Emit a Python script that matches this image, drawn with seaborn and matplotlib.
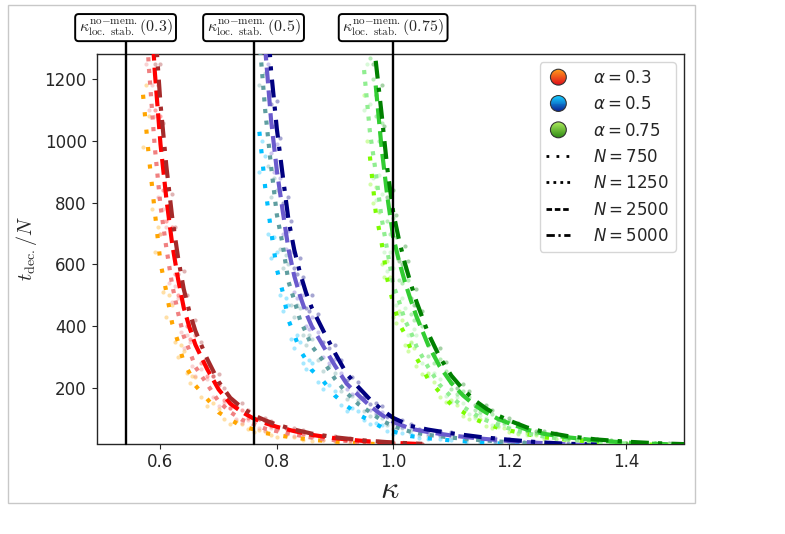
import numpy as np
import pandas as pd
import seaborn as sns
import matplotlib.pyplot as plt
import matplotlib.colors as mcolors
from matplotlib.lines import Line2D
from matplotlib.patches import Circle, Rectangle
from matplotlib.legend_handler import HandlerBase

nan = np.nan

# ---- data: kappa grid and t_dec/N for every (alpha, N) ----
kappa_a03 = [0.57, 0.58, 0.59, 0.60, 0.61, 0.62, 0.63, 0.64, 0.65, 0.66, 0.68, 0.70,
             0.72, 0.74, 0.76, 0.78, 0.80, 0.83, 0.86, 0.90, 0.95, 1.00, 1.05]
t_a03_N750 = [1150, 950, 775, 605, 512, 410, 350, 283, 248, 208, 165, 121,
              97, 76, 66, 54, 47, 39, 32, 26, 20, 16, 14]
t_a03_N1250 = [1560, 1240, 985, 790, 655, 535, 445, 368, 320, 268, 213, 156,
               122, 97, 83, 68, 60, 49, 39, 31, 24, 19, 16]
t_a03_N2500 = [1950, 1550, 1230, 990, 815, 668, 555, 460, 395, 340, 262, 195,
               149, 122, 101, 86, 74, 60, 48, 37, 28, 22, 18]
t_a03_N5000 = [2200, 1750, 1390, 1120, 920, 755, 625, 520, 445, 385, 295, 220,
               168, 136, 112, 95, 81, 65, 52, 40, 30, 23, 19]

kappa_a05 = [0.77, 0.78, 0.79, 0.80, 0.81, 0.82, 0.83, 0.84, 0.85, 0.86, 0.88, 0.90,
             0.92, 0.94, 0.96, 0.98, 1.00, 1.03, 1.06, 1.10, 1.15, 1.20, 1.25, 1.30, 1.35]
t_a05_N750 = [1030, 850, 710, 585, 512, 420, 372, 322, 292, 258, 222, 175,
              142, 114, 94, 73, 59, 44, 37, 30, 24, 18, 14, 12, 10]
t_a05_N1250 = [1330, 1100, 920, 762, 665, 545, 484, 420, 380, 336, 287, 229,
               184, 148, 122, 95, 76, 58, 48, 39, 31, 24, 19, 15, 13]
t_a05_N2500 = [1560, 1300, 1070, 905, 775, 650, 563, 498, 444, 400, 335, 272,
               214, 177, 142, 113, 90, 68, 57, 46, 36, 28, 22, 17, 15]
t_a05_N5000 = [1800, 1500, 1230, 1040, 890, 745, 647, 572, 510, 460, 385, 313,
               246, 203, 163, 130, 103, 77, 65, 53, 41, 32, 24, 19, 17]

kappa_a075 = [0.95, 0.96, 0.97, 0.98, 0.99, 1.00, 1.01, 1.02, 1.03, 1.04, 1.06, 1.08,
              1.10, 1.12, 1.14, 1.16, 1.18, 1.20, 1.23, 1.26, 1.30, 1.35, 1.40, 1.45, 1.50]
t_a075_N750 = [nan, 950, 770, 672, 552, 475, 410, 375, 326, 298, 229, 186,
               146, 122, 99, 84, 71, 62, 50, 40, 32, 25, 20, 16, 14]
t_a075_N1250 = [1230, 1030, 900, 752, 645, 535, 482, 420, 383, 335, 268, 210,
                171, 139, 115, 95, 80, 68, 53, 42, 33, 25, 20, 16, 14]
t_a075_N2500 = [nan, nan, 1180, 980, 820, 690, 612, 545, 486, 432, 340, 270,
                216, 176, 144, 120, 100, 85, 65, 51, 40, 30, 23, 19, 16]
t_a075_N5000 = [nan, nan, 1260, 1090, 910, 770, 680, 605, 540, 480, 378, 300,
                240, 196, 160, 133, 111, 94, 72, 57, 44, 33, 26, 21, 18]

# ---- single-run samples (the faint dots), between grid points ----
kappa_dots_a03 = [0.575, 0.585, 0.595, 0.605, 0.615, 0.625, 0.635, 0.645, 0.655, 0.67, 0.69,
                  0.71, 0.73, 0.75, 0.77, 0.79, 0.815, 0.845, 0.88, 0.925, 0.975]
dots_a03_N750 = [1180, 780, 720, 510, 500, 350, 340, 250, 240, 170, 150, 100, 92, 66, 64, 47, 46, 32, 30, 21, 19]
dots_a03_N1250 = [1250, 1180, 820, 780, 540, 530, 380, 370, 270, 260, 170, 150, 100, 97, 70, 69, 50, 46, 31, 28, 19]
dots_a03_N2500 = [1850, 1300, 1180, 840, 790, 570, 540, 400, 390, 280, 240, 160, 142, 104, 98, 76, 70, 51, 44, 30, 26]
dots_a03_N5000 = [1800, 1600, 1150, 1060, 780, 720, 530, 500, 390, 350, 240, 200, 140, 130, 100, 94, 71, 63, 44, 38, 26]

kappa_dots_a05 = [0.775, 0.785, 0.795, 0.805, 0.815, 0.825, 0.835, 0.845, 0.855, 0.87, 0.89, 0.91,
                  0.93, 0.95, 0.97, 0.99, 1.015, 1.045, 1.08, 1.125, 1.175, 1.225, 1.275]
dots_a05_N750 = [1000, 700, 690, 500, 490, 360, 370, 280, 290, 220, 210, 145, 135, 96, 88, 60, 54, 37, 35, 24, 22, 15, 14]
dots_a05_N1250 = [1300, 920, 880, 650, 630, 470, 470, 370, 370, 290, 270, 190, 175, 125, 112, 80, 70, 49, 45, 32, 28, 19, 17]
dots_a05_N2500 = [1300, 1250, 900, 880, 650, 640, 490, 500, 390, 380, 280, 250, 180, 165, 118, 105, 72, 64, 48, 41, 29, 25, 18]
dots_a05_N5000 = [1500, 1450, 1050, 1010, 760, 740, 570, 560, 450, 440, 330, 290, 235, 170, 150, 108, 95, 66, 62, 43, 37, 26, 23]

kappa_dots_a075 = [0.955, 0.965, 0.975, 0.985, 0.995, 1.005, 1.015, 1.025, 1.035, 1.05, 1.07, 1.09,
                   1.11, 1.13, 1.15, 1.17, 1.19, 1.215, 1.245, 1.28, 1.325, 1.375, 1.425, 1.475]
dots_a075_N750 = [1000, 800, 770, 560, 560, 410, 420, 320, 330, 245, 220, 155, 145, 100, 98, 71, 70, 52, 48, 33, 30, 20, 19, 14]
dots_a075_N1250 = [1250, 880, 890, 640, 640, 470, 490, 370, 390, 280, 250, 175, 170, 115, 112, 80, 80, 55, 51, 34, 31, 20, 19, 14]
dots_a075_N2500 = [nan, 1200, 1000, 950, 700, 690, 540, 550, 420, 400, 280, 255, 180, 170, 122, 116, 86, 79, 54, 48, 32, 28, 19, 18]
dots_a075_N5000 = [nan, 1250, 1100, 1050, 780, 760, 600, 610, 470, 450, 310, 285, 200, 190, 135, 130, 95, 88, 60, 53, 36, 31, 21, 20]

# more single-run samples, on the grid points
extra_a03_N750 = [980, 1080, 640, 700, 430, 470, 300, 320, 215, 235, 140, 132, 82, 84, 57, 60, 41, 42, 28, 29, 18, 17, 13]
extra_a03_N1250 = [1400, 1100, 1080, 700, 720, 480, 490, 330, 350, 240, 230, 140, 135, 88, 90, 61, 64, 44, 42, 28, 26, 17, 17]
extra_a03_N2500 = [1700, 1700, 1100, 1080, 740, 720, 500, 500, 360, 370, 240, 210, 135, 130, 92, 92, 68, 64, 44, 40, 26, 23, 18]
extra_a03_N5000 = [2000, 1900, 1250, 1250, 840, 830, 570, 580, 410, 420, 270, 245, 155, 150, 104, 103, 75, 71, 48, 44, 28, 25, 19]

extra_a05_N750 = [900, 950, 620, 640, 450, 470, 330, 350, 260, 280, 195, 190, 125, 125, 82, 80, 52, 50, 33, 32, 21, 20, 13, 13, 10]
extra_a05_N1250 = [1180, 1220, 820, 840, 590, 600, 430, 460, 340, 360, 255, 250, 165, 160, 108, 104, 68, 64, 43, 42, 27, 26, 17, 16, 12]
extra_a05_N2500 = [1400, 1420, 960, 990, 700, 710, 510, 540, 400, 430, 300, 295, 195, 190, 128, 123, 82, 74, 52, 50, 33, 30, 20, 18, 14]
extra_a05_N5000 = [1650, 1600, 1120, 1130, 800, 820, 590, 620, 460, 500, 350, 340, 225, 220, 148, 142, 94, 84, 60, 57, 37, 35, 22, 21, 16]

extra_a075_N750 = [1150, 860, 850, 600, 610, 430, 450, 340, 350, 270, 250, 170, 160, 110, 108, 76, 77, 56, 54, 36, 35, 23, 22, 15, 13]
extra_a075_N1250 = [1100, 1120, 810, 830, 580, 590, 440, 460, 345, 370, 240, 230, 155, 150, 104, 104, 72, 74, 48, 46, 30, 27, 18, 17, 13]
extra_a075_N2500 = [nan, 1270, 1080, 1060, 740, 750, 550, 590, 440, 470, 305, 295, 195, 190, 130, 130, 90, 92, 59, 55, 36, 33, 21, 20, 15]
extra_a075_N5000 = [nan, nan, 1150, 1180, 820, 840, 610, 660, 490, 520, 340, 330, 215, 212, 145, 145, 100, 102, 65, 62, 40, 36, 23, 23, 17]

kappa_stab = [0.54, 0.76, 1.0]
stab_labels = ["0.3", "0.5", "0.75"]

N_values = [750, 1250, 2500, 5000]
alphas = ["0.3", "0.5", "0.75"]

curves = {
    "0.3": (kappa_a03, [t_a03_N750, t_a03_N1250, t_a03_N2500, t_a03_N5000]),
    "0.5": (kappa_a05, [t_a05_N750, t_a05_N1250, t_a05_N2500, t_a05_N5000]),
    "0.75": (kappa_a075, [t_a075_N750, t_a075_N1250, t_a075_N2500, t_a075_N5000]),
}
samples = [
    ("0.3", kappa_dots_a03, [dots_a03_N750, dots_a03_N1250, dots_a03_N2500, dots_a03_N5000]),
    ("0.5", kappa_dots_a05, [dots_a05_N750, dots_a05_N1250, dots_a05_N2500, dots_a05_N5000]),
    ("0.75", kappa_dots_a075, [dots_a075_N750, dots_a075_N1250, dots_a075_N2500, dots_a075_N5000]),
    ("0.3", kappa_a03, [extra_a03_N750, extra_a03_N1250, extra_a03_N2500, extra_a03_N5000]),
    ("0.5", kappa_a05, [extra_a05_N750, extra_a05_N1250, extra_a05_N2500, extra_a05_N5000]),
    ("0.75", kappa_a075, [extra_a075_N750, extra_a075_N1250, extra_a075_N2500, extra_a075_N5000]),
]

colors = {
    "0.3": ["orange", "lightcoral", "red", "brown"],
    "0.5": ["deepskyblue", "cadetblue", "slateblue", "navy"],
    "0.75": ["lawngreen", "lightgreen", "limegreen", "green"],
}
gradient = {
    "0.3": ("#ff9a1a", "#e0101a"),
    "0.5": ("#14c8ff", "#0a2a9a"),
    "0.75": ("#a8e85a", "#2e8a14"),
}
line_styles = {750: (0, (1, 3.2)), 1250: (0, (1, 1.8)),
               2500: (0, (3.8, 1.7)), 5000: (0, (4.3, 2.2, 1.0, 2.2))}
legend_styles = {750: (0, (1, 2.6)), 1250: (0, (1, 1.5)),
                 2500: (0, (2.0, 1.0)), 5000: (0, (3.0, 1.3, 0.8, 1.3))}


class GradientCircle(HandlerBase):
    """round legend marker shaded from top colour to bottom colour"""
    def __init__(self, top, bottom):
        super().__init__()
        self.top = np.array(mcolors.to_rgb(top))
        self.bottom = np.array(mcolors.to_rgb(bottom))

    def create_artists(self, legend, orig_handle, xdescent, ydescent,
                       width, height, fontsize, trans):
        cx = 0.5 * width - xdescent
        cy = 0.5 * height - ydescent
        r = 0.68 * height
        circ = Circle((cx, cy), r, facecolor="none", edgecolor="#333333",
                      lw=0.8, transform=trans)
        arts = []
        n = 16
        for i in range(n):
            f = i / (n - 1)
            c = self.bottom * (1 - f) + self.top * f
            rect = Rectangle((cx - r, cy - r + 2 * r * i / n), 2 * r, 2 * r / n + 0.3,
                             facecolor=c, edgecolor="none", transform=trans)
            rect.set_clip_path(circ)
            arts.append(rect)
        arts.append(circ)
        return arts


sns.set_style("ticks")
plt.rcParams["font.family"] = ["DejaVu Sans"]

fig = plt.figure(figsize=(7.85, 5.34), dpi=100)
ax = fig.add_axes([96.5 / 785, 1 - 443.5 / 534, (684 - 96.5) / 785, (443.5 - 54) / 534])

# faint single-run dots
for a, kd, rows in samples:
    for t, col in zip(rows, colors[a]):
        sns.scatterplot(x=kd, y=t, color=col, s=9, alpha=0.35, linewidth=0,
                        ax=ax, zorder=1, legend=False)

# averaged curves
for a in alphas:
    k, rows = curves[a]
    for N, t, col in zip(N_values, rows, colors[a]):
        df = pd.DataFrame({"kappa": k, "t": t})
        sns.lineplot(data=df, x="kappa", y="t", color=col, lw=3.0,
                     linestyle=line_styles[N], errorbar=None, ax=ax, zorder=3)

# stability thresholds with boxed labels above the axes
for k, lab in zip(kappa_stab, stab_labels):
    ax.axvline(k, ymin=0, ymax=1.035, color="black", lw=1.7, clip_on=False, zorder=5)
    ax.text(k, 1.042, r"$\kappa^{\rm no{-}mem.}_{\rm loc.\ stab.}(" + lab + ")$",
            transform=ax.get_xaxis_transform(), ha="center", va="bottom",
            fontsize=11.5, math_fontfamily="cm", zorder=6,
            bbox=dict(boxstyle="round,pad=0.22", fc="white", ec="black", lw=1.4))

ax.set_xlim(0.49, 1.5)
ax.set_ylim(20, 1282)
ax.set_xticks([0.6, 0.8, 1.0, 1.2, 1.4])
ax.set_yticks([200, 400, 600, 800, 1000, 1200])
ax.tick_params(labelsize=12)
ax.set_xlabel(r"$\kappa$", fontsize=23, math_fontfamily="cm", labelpad=2)
ax.set_ylabel(r"$t_{\rm dec.}/N$", fontsize=14.5, math_fontfamily="cm")
for sp in ax.spines.values():
    sp.set_linewidth(1.0)

handles, labels, hmap = [], [], {}
for a in alphas:
    h = Line2D([], [], linestyle="none")
    hmap[h] = GradientCircle(*gradient[a])
    handles.append(h)
    labels.append(r"$\alpha = " + a + "$")
for N in N_values:
    handles.append(Line2D([], [], color="black", lw=2.0, linestyle=legend_styles[N]))
    labels.append(r"$N = " + str(N) + "$")
ax.legend(handles, labels, handler_map=hmap, loc="upper right", fontsize=12,
          handlelength=1.45, handletextpad=1.35)

# light frame of the embedded figure
fig.patches.append(Rectangle((8 / 785, 1 - 503 / 534), 687 / 785, 498 / 534,
                             transform=fig.transFigure, fill=False,
                             edgecolor="#c8c8c8", lw=1.0))

plt.savefig("out.png", dpi=100)
